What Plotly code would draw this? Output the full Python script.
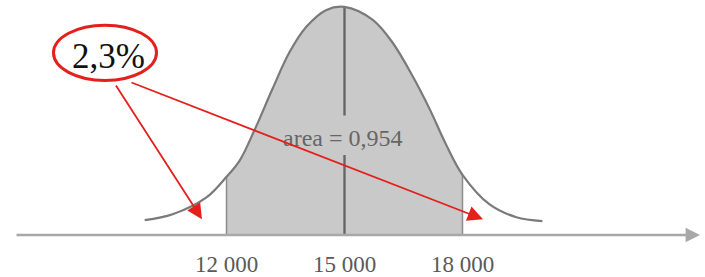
import plotly.graph_objects as go

# ---- data ----
mean_value = 15000
lower_bound = 12000
upper_bound = 18000
area_label = "area = 0,954"
tail_label = "2,3%"
tick_values = [12000, 15000, 18000]
tick_labels = ["12 000", "15 000", "18 000"]

# curve (relative height, peak = 1)
curve_x = [9920, 10630, 11490, 12000, 12330, 12710, 13170, 13600, 14030, 14540,
           15000, 15710, 16220, 16730, 17160, 17590, 18000, 18690, 19370, 20030]
curve_y = [0.065, 0.091, 0.165, 0.255, 0.325, 0.459, 0.641, 0.801, 0.913, 0.987,
           1.0, 0.944, 0.844, 0.697, 0.554, 0.394, 0.264, 0.134, 0.078, 0.061]

# ---- figure ----
W, H = 705, 277
px_per_unit = 118 / 3000
x_left = mean_value - 344.5 / px_per_unit
x_right = mean_value + (W - 344.5) / px_per_unit
axis_px = 238
peak_px = 231
y_top = axis_px / peak_px

def xv(px):
    return mean_value + (px - 344.5) / px_per_unit

def yv(py):
    return (axis_px - py) / peak_px

shade_x = [x for x in curve_x if lower_bound <= x <= upper_bound]
shade_y = [y for x, y in zip(curve_x, curve_y) if lower_bound <= x <= upper_bound]

h_low = curve_y[curve_x.index(lower_bound)]
h_up = curve_y[curve_x.index(upper_bound)]
h_mid = curve_y[curve_x.index(mean_value)]

fig = go.Figure()
fig.add_trace(go.Scatter(x=shade_x, y=shade_y, mode="lines", line=dict(width=0, shape="spline"),
                         fill="tozeroy", fillcolor="#c9c9c9", hoverinfo="skip"))
fig.add_trace(go.Scatter(x=[lower_bound, lower_bound], y=[0, h_low], mode="lines",
                         line=dict(color="#8c8c8c", width=1.5), hoverinfo="skip"))
fig.add_trace(go.Scatter(x=[upper_bound, upper_bound], y=[0, h_up], mode="lines",
                         line=dict(color="#8c8c8c", width=1.5), hoverinfo="skip"))
# centre line, interrupted by the label
fig.add_trace(go.Scatter(x=[mean_value, mean_value, None, mean_value, mean_value],
                         y=[0, yv(157), None, yv(117), h_mid], mode="lines",
                         line=dict(color="#666666", width=2.4), hoverinfo="skip"))
fig.add_trace(go.Scatter(x=curve_x, y=curve_y, mode="lines",
                         line=dict(color="#7a7a7a", width=2.2, shape="spline"), hoverinfo="skip"))

annotations = [
    # horizontal axis with arrow
    dict(x=xv(700), y=0, ax=xv(15), ay=0, xref="x", yref="y", axref="x", ayref="y",
         showarrow=True, arrowhead=2, arrowsize=1.2, arrowwidth=2.4, arrowcolor="#a8a8a8",
         text="", standoff=0, startstandoff=0),
    dict(x=mean_value - 60, y=yv(140), xref="x", yref="y", text=area_label, showarrow=False,
         font=dict(family="Liberation Serif", size=24, color="#666666")),
    dict(x=xv(108), y=yv(57), xref="x", yref="y", text=tail_label, showarrow=False,
         font=dict(family="Liberation Serif", size=35, color="#111111")),
    dict(x=xv(202), y=yv(222), ax=xv(115), ay=yv(85), xref="x", yref="y", axref="x", ayref="y",
         showarrow=True, arrowhead=2, arrowsize=1.7, arrowwidth=1.8, arrowcolor="#e3201c",
         text="", standoff=0),
    dict(x=xv(483), y=yv(222), ax=xv(130), ay=yv(83), xref="x", yref="y", axref="x", ayref="y",
         showarrow=True, arrowhead=2, arrowsize=1.7, arrowwidth=1.8, arrowcolor="#e3201c",
         text="", standoff=0),
]

fig.add_shape(type="circle", xref="x", yref="y", x0=xv(53.5), x1=xv(156.5), y0=yv(81.5), y1=yv(25.5),
              line=dict(color="#e3201c", width=3))

fig.update_layout(
    width=W, height=H, margin=dict(l=0, r=0, t=0, b=H - axis_px),
    paper_bgcolor="white", plot_bgcolor="white", showlegend=False,
    annotations=annotations,
    xaxis=dict(range=[x_left, x_right], showgrid=False, zeroline=False, showline=False,
               tickvals=tick_values, ticktext=tick_labels, ticks="outside", ticklen=8,
               tickcolor="rgba(0,0,0,0)",
               tickfont=dict(family="Liberation Serif", size=23, color="#5a5a5a")),
    yaxis=dict(range=[0, y_top], visible=False),
)

fig.write_html("out.html", config={"displayModeBar": False},
               post_script="document.body.style.margin='0';document.body.style.overflow='hidden';")
